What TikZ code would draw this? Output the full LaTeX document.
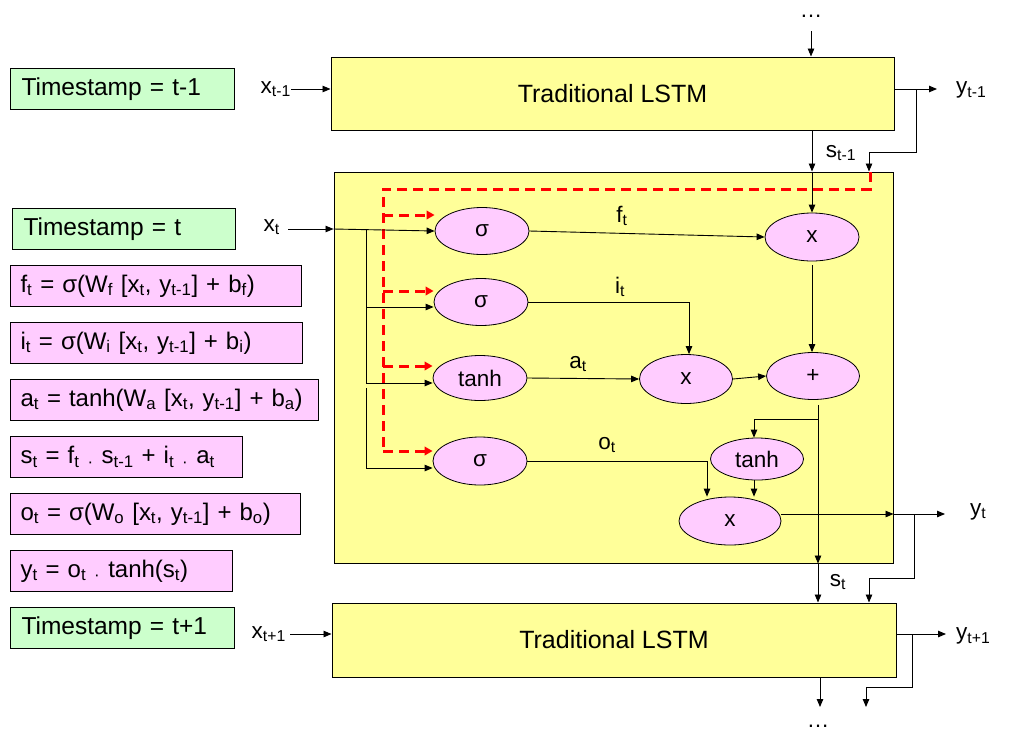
\documentclass[tikz,border=0pt]{standalone}
\usepackage{fontspec}
\setmainfont{Liberation Sans}
\usetikzlibrary{shapes.geometric,arrows.meta}
\definecolor{lgreen}{HTML}{CCFFCC}
\definecolor{lpink}{HTML}{FFCCFF}
\definecolor{lyellow}{HTML}{FFFF99}
\newcommand\lo[1]{\textsubscript{#1}}
\begin{document}
\begin{tikzpicture}[x=1pt,y=-1pt,
  every node/.style={font=\fontsize{22.5}{24}\selectfont},
  ln/.style={line width=0.9pt},
  ar/.style={line width=0.9pt,-{Triangle[length=8pt,width=6.5pt]}},
  rdash/.style={draw=red,line width=3pt,dash pattern=on 10pt off 6pt},
  rar/.style={rdash,-{Triangle[length=8pt,width=8.5pt]}},
  ell/.style={ellipse,draw,fill=lpink,line width=0.8pt,inner sep=0pt,minimum width=94pt,minimum height=47pt},
  tsbox/.style={draw,fill=lgreen,line width=1pt,anchor=north west,minimum height=41pt,inner xsep=11pt,inner ysep=0pt,text width=#1,align=left,font=\fontsize{24.5}{26}\selectfont},
  eqbox/.style={draw,fill=lpink,line width=1pt,anchor=north west,minimum height=41pt,inner xsep=10pt,inner ysep=0pt,text width=#1,align=left,font=\fontsize{24}{26}\selectfont},
  lstm/.style={draw,fill=lyellow,line width=1pt,inner sep=0pt,font=\fontsize{25}{28}\selectfont},
  lab/.style={inner sep=0pt}]
\useasboundingbox (0,0) rectangle (1011,742);

% left column
\node[tsbox=202pt] (ts1) at (10,68) {Timestamp = t-1};
\node[tsbox=201pt] (ts2) at (12,208) {Timestamp = t};
\node[eqbox=271pt] (eqf) at (10,265) {f\lo{t} = σ(W\lo{f} [x\lo{t}, y\lo{t-1}] + b\lo{f})};
\node[eqbox=272pt] (eqi) at (10,322) {i\lo{t} = σ(W\lo{i} [x\lo{t}, y\lo{t-1}] + b\lo{i})};
\node[eqbox=288pt] (eqa) at (10,379) {a\lo{t} = tanh(W\lo{a} [x\lo{t}, y\lo{t-1}] + b\lo{a})};
\node[eqbox=212pt] (eqs) at (10,436) {s\lo{t} = f\lo{t} \lo{·} s\lo{t-1} + i\lo{t} \lo{·} a\lo{t}};
\node[eqbox=270pt] (eqo) at (10,493) {o\lo{t} = σ(W\lo{o} [x\lo{t}, y\lo{t-1}] + b\lo{o})};
\node[eqbox=202pt] (eqy) at (10,550) {y\lo{t} = o\lo{t} \lo{·} tanh(s\lo{t})};
\node[tsbox=202pt] (ts3) at (10,607) {Timestamp = t+1};

% LSTM boxes
\node[lstm,minimum width=563pt,minimum height=73pt] (top) at (612.5,93.5) {Traditional LSTM};
\node[lstm,minimum width=559pt,minimum height=391pt] (cell) at (613.5,367.5) {};
\node[lstm,minimum width=564pt,minimum height=74pt] (bot) at (614,640) {Traditional LSTM};

% ellipses
\node[ell] (s1) at (482,231) {σ};
\node[ell,minimum height=48pt] (mf) at (812,237) {x};
\node[ell] (s2) at (481,302) {σ};
\node[ell,minimum height=45pt] (th1) at (480,378) {tanh};
\node[ell,minimum width=93pt,minimum height=49pt] (mi) at (686,379) {x};
\node[ell,minimum width=93pt] (pl) at (813,376) {+};
\node[ell,minimum height=48pt] (s3) at (480,461) {σ};
\node[ell,minimum width=93pt,minimum height=42pt] (th2) at (757,459) {tanh};
\node[ell,minimum width=102pt,minimum height=48pt] (mo) at (730,521) {x};

% labels
\node[lab,anchor=base] (dtop) at (811,17) {…};
\node[lab,anchor=east] (xtm1) at (291,89) {x\lo{t-1}};
\node[lab,anchor=west] (ytm1) at (956,90) {y\lo{t-1}};
\node[lab] (stm1) at (841,153) {s\lo{t-1}};
\node[lab,anchor=east] (xt) at (280,227) {x\lo{t}};
\node[lab] (ft) at (622,216) {f\lo{t}};
\node[lab] (it) at (620,287) {i\lo{t}};
\node[lab] (at) at (578,364) {a\lo{t}};
\node[lab] (ot) at (607,445) {o\lo{t}};
\node[lab,anchor=west] (yt) at (970,512) {y\lo{t}};
\node[lab] (st) at (838,582) {s\lo{t}};
\node[lab,anchor=east] (xtp1) at (286,634) {x\lo{t+1}};
\node[lab,anchor=west] (ytp1) at (956,636) {y\lo{t+1}};
\node[lab,anchor=base] (dbot) at (818,727) {…};

% coordinates
\coordinate (c1) at (811,31);
\coordinate (ye1) at (937,89);
\coordinate (yb1) at (916,89);
\coordinate (yk1) at (869,152);
\coordinate (rs) at (870,172);
\coordinate (rv) at (383,189);
\coordinate (b0) at (366,229);
\coordinate (b1) at (366,388);
\coordinate (bk) at (366,383);
\coordinate (ye2) at (945,514);
\coordinate (yb2) at (914,514);
\coordinate (yk2) at (869,578);
\coordinate (ye3) at (946,634);
\coordinate (yb3) at (912,634);
\coordinate (yk3) at (866,687);
\coordinate (ye4) at (866,707);
\coordinate (dn) at (820,707);
\coordinate (bend) at (870,189);
\coordinate (rend) at (383,451);
\coordinate (sk) at (0,419);

% top LSTM connections
\draw[ar] (c1) -- (c1 |- top.north);
\draw[ar] (xtm1.east |- ye1) -- (ye1 -| top.west);
\draw[ar] (ye1 -| top.east) -- (ye1);
\draw[ar] (yb1) |- (yk1) -- (yk1 |- cell.north);
\draw[ar] (top.south -| mf) -- (cell.north -| mf);
\draw[ar] (cell.north -| mf) -- (mf.north);

% red dashed path
\draw[rdash] (rs) -- (bend) -| (rend);
\path ([yshift=16pt]s1.west) coordinate (t1)
      ([yshift=11pt]s2.west) coordinate (t2)
      ([yshift=12pt]th1.west) coordinate (t3)
      ([yshift=10pt]s3.west) coordinate (t4);
\draw[rar] (t1 -| rv) -- (t1);
\draw[rar] (t2 -| rv) -- (t2);
\draw[rar] (t3 -| rv) -- (t3);
\draw[rar] (t4 -| rv) -- (t4);

% x_t input
\draw[ar] ([xshift=8pt]xt.east |- b0) -- (b0 -| cell.west);
\draw[ar] (b0 -| cell.west) -- (s1.west);
\draw[ln] (b0) -- (bk);
\draw[ar] (b0) |- ([yshift=-5pt]s2.west);
\draw[ar] (b0) |- ([yshift=-5pt]th1.west);
\draw[ar] (b1) |- ([yshift=-7pt]s3.west);

% internal connections
\draw[ar] (s1.east) -- (mf.west);
\draw[ar] ([yshift=-4pt]mf.south) -- (mf.south |- pl.north);
\draw[ar] (s2.east) -| ([xshift=3pt]mi.north);
\draw[ar] (th1.east) -- (mi.west);
\draw[ar] (mi.east) -- (pl.west);
\coordinate (sv) at ([xshift=5pt,yshift=-5pt]pl.south);
\draw[ar] (sv) -- (sv |- cell.south);
\draw[ar] (sv |- cell.south) -- (sv |- bot.north);
\draw[ar] (sv |- sk) -| ([xshift=-3pt]th2.north);
\draw[ar] (s3.east) -| ([xshift=-23pt]mo.north);
\draw[ar] ([xshift=-3pt]th2.south) -- ([xshift=-3pt]th2.south |- mo.north);
\draw[ar] ([yshift=7pt]mo.east) -- (yb2 -| cell.east);
\draw[ar] (yb2 -| cell.east) -- (ye2);
\draw[ar] (yb2) |- (yk2) -- (yk2 |- bot.north);

% bottom LSTM connections
\draw[ar] ([xshift=4pt]xtp1.east |- ye3) -- (ye3 -| bot.west);
\draw[ar] (ye3 -| bot.east) -- (ye3);
\draw[ar] (yb3) |- (yk3) -- (ye4);
\draw[ar] (dn |- bot.south) -- (dn);
\end{tikzpicture}
\end{document}
